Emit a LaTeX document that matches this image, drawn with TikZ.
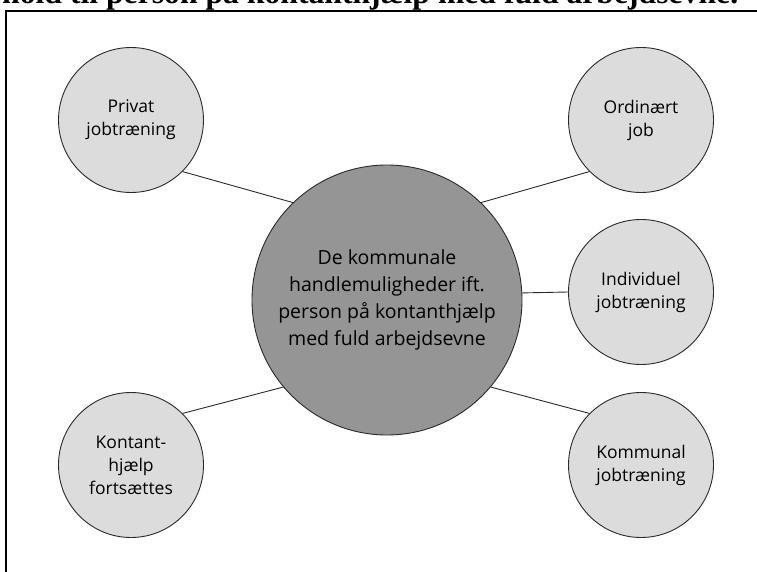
\documentclass[tikz,border=0pt]{standalone}
\usepackage{fontspec}
\usepackage{graphicx}
\setmainfont{Liberation Serif}
\newfontfamily\labelfont{Open Sans}
\definecolor{smallfill}{HTML}{DCDCDC}
\definecolor{bigfill}{HTML}{959595}
\definecolor{edgecol}{HTML}{2A2A2A}
\begin{document}
\begin{tikzpicture}[x=1pt,y=-1pt,
  smallcirc/.style={circle, draw=edgecol, line width=0.9pt, fill=smallfill, minimum size=145pt, inner sep=0pt, align=center, font=\labelfont\fontsize{17.5}{23}\selectfont},
  bigcirc/.style={circle, draw=edgecol, line width=0.9pt, fill=bigfill, minimum size=270pt, inner sep=0pt, align=center, font=\labelfont\fontsize{19.5}{27}\selectfont},
  conn/.style={draw=edgecol, line width=0.9pt},
  frameline/.style={draw=black, line width=2pt}]
\useasboundingbox (0,0) rectangle (757,572);
% cut-off heading
\node[anchor=base west, inner sep=0pt] (head) at (2,4) {\resizebox{736pt}{!}{\bfseries hold til person på kontanthjælp med fuld arbejdsevne.}};
% frame
\coordinate (ftr) at (770,11);
\coordinate (ftl) at (6,11);
\coordinate (fbl) at (6,590);
\draw[frameline] (ftr) -- (ftl) -- (fbl);
% nodes
\node[bigcirc] (ctr) at (387,300) {De kommunale\\handlemuligheder ift.\\person på kontanthjælp\\med fuld arbejdsevne};
\node[smallcirc] (priv) at (131,120) {Privat\\jobtræning};
\node[smallcirc] (ord) at (641,120) {Ordinært\\job};
\node[smallcirc] (ind) at (641,292) {Individuel\\jobtræning};
\node[smallcirc] (kom) at (641,465) {Kommunal\\jobtræning};
\node[smallcirc] (kon) at (131,465) {Kontant-\\hjælp\\fortsættes};
% connectors
\draw[conn] (priv.-45) -- (ctr.134);
\draw[conn] (ord.225) -- (ctr.46);
\draw[conn] (ind.west) -- (ctr.3.4);
\draw[conn] (kom.135) -- (ctr.-40);
\draw[conn] (kon.45) -- (ctr.220);
\end{tikzpicture}
\end{document}
